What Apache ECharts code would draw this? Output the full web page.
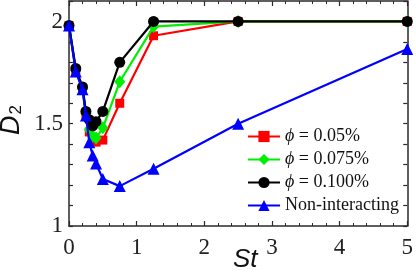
<!DOCTYPE html>
<html>
<head>
<meta charset="utf-8">
<script src="https://cdn.jsdelivr.net/npm/echarts@6/dist/echarts.min.js"></script>
<style>
html,body{margin:0;padding:0;background:#fff;}
#c{width:416px;height:275px;}
</style>
</head>
<body>
<div id="c"></div>
<script>
// Data
var stValues = [0, 0.1, 0.2, 0.25, 0.3, 0.35, 0.4, 0.5, 0.75, 1.25, 2.5, 5];
var phi005 = [1.98, 1.76, 1.67, 1.55, 1.46, 1.42, 1.41, 1.42, 1.60, 1.93, 2.0, 2.0];
var phi0075 = [1.98, 1.76, 1.67, 1.55, 1.47, 1.44, 1.43, 1.48, 1.705, 1.975, 2.0, 2.0];
var phi0100 = [1.98, 1.77, 1.68, 1.56, 1.52, 1.49, 1.51, 1.56, 1.80, 2.0, 2.0, 2.0];
var nonInteracting = [1.98, 1.755, 1.668, 1.54, 1.41, 1.345, 1.305, 1.23, 1.195, 1.28, 1.5, 1.865];
var xTicks = [0, 1, 2, 3, 4, 5];
var yTicks = [1, 1.5, 2];
var seriesNames = ['\u03d5 = 0.05%', '\u03d5 = 0.075%', '\u03d5 = 0.100%', 'Non-interacting'];

function pairs(xs, ys) { return xs.map(function (x, i) { return [x, ys[i]]; }); }

var serif = 'Liberation Serif';
var axisColor = '#2a2a2a';

function xAxisDef(pos, showLabels) {
  return {
    type: 'value', position: pos, min: 0, max: 5, interval: 1,
    axisLine: { show: true, onZero: false, lineStyle: { color: axisColor, width: 1.5 } },
    axisTick: { show: true, inside: true, length: 5, lineStyle: { color: axisColor, width: 1.2 } },
    minorTick: { show: true, splitNumber: 5, length: 3, lineStyle: { color: axisColor, width: 1 } },
    splitLine: { show: false },
    axisLabel: {
      show: showLabels, margin: 10, fontFamily: serif, fontSize: 23, color: '#222',
      formatter: function (v) { return xTicks.indexOf(Math.round(v * 1000) / 1000) >= 0 ? String(v) : ''; }
    }
  };
}
function yAxisDef(pos, showLabels) {
  return {
    type: 'value', position: pos, min: 1, max: 2.1, interval: 0.1,
    axisLine: { show: true, onZero: false, lineStyle: { color: axisColor, width: 1.5 } },
    axisTick: { show: true, inside: true, length: 4, lineStyle: { color: axisColor, width: 1.2 } },
    splitLine: { show: false },
    axisLabel: {
      show: showLabels, margin: 6, fontFamily: serif, fontSize: 23, color: '#222',
      formatter: function (v) {
        var r = Math.round(v * 1000) / 1000;
        return yTicks.indexOf(r) >= 0 ? String(r) : '';
      }
    }
  };
}

var colors = ['#ff0000', '#00ee00', '#000000', '#0000ff'];
var symbols = ['rect', 'diamond', 'circle', 'triangle'];
var sizes = [9, [11, 13], 11, 12];
var datasets = [phi005, phi0075, phi0100, nonInteracting];

var series = datasets.map(function (d, i) {
  return {
    name: seriesNames[i], type: 'line', data: pairs(stValues, d),
    xAxisIndex: 0, yAxisIndex: 0,
    symbol: symbols[i], symbolSize: sizes[i], showAllSymbol: true,
    lineStyle: { color: colors[i], width: 2.2 },
    itemStyle: { color: colors[i] },
    z: 2 + i, animation: false
  };
});

var chart = echarts.init(document.getElementById('c'), null, { renderer: 'canvas' });
chart.setOption({
  animation: false,
  backgroundColor: '#fff',
  grid: { left: 69, right: 8, top: 1, bottom: 49, containLabel: false },
  xAxis: [xAxisDef('bottom', true), xAxisDef('top', false)],
  yAxis: [yAxisDef('left', true), yAxisDef('right', false)],
  legend: {
    orient: 'vertical', left: 247, top: 127, padding: 0,
    itemWidth: 32, itemHeight: 14, itemGap: 4,
    data: seriesNames,
    textStyle: {
      fontFamily: serif, fontSize: 18, color: '#111', lineHeight: 19,
      rich: { i: { fontFamily: serif, fontStyle: 'italic', fontSize: 18, lineHeight: 19 } }
    },
    formatter: function (name) {
      if (name.charAt(0) === '\u03d5') return '{i|\u03d5}' + name.slice(1);
      return name;
    }
  },
  graphic: [
    {
      type: 'text', left: 233, top: 247, z: 10,
      style: { text: 'St', font: 'italic 26px "Liberation Sans"', fill: '#111' }
    },
    {
      type: 'text', x: 11, y: 120, rotation: Math.PI / 2, z: 10,
      style: {
        text: '{d|D}{s|2}', align: 'center', verticalAlign: 'middle',
        rich: {
          d: { fontFamily: 'Liberation Sans', fontStyle: 'italic', fontSize: 27, fill: '#111' },
          s: { fontFamily: 'Liberation Sans', fontSize: 17, fill: '#111', verticalAlign: 'bottom', padding: [10, 0, 0, 1] }
        }
      }
    }
  ],
  series: series
});
</script>
</body>
</html>
